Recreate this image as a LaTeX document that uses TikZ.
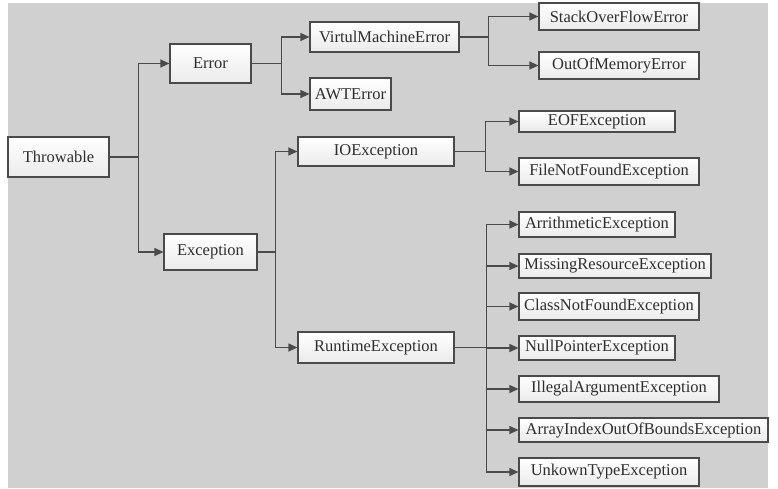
\documentclass[tikz,border=0pt]{standalone}
\usepackage{fontspec}
\setmainfont{Liberation Serif}
\usetikzlibrary{arrows.meta}
\definecolor{bggray}{HTML}{D0D0D0}
\definecolor{linegray}{HTML}{4A4A4A}
\definecolor{txtgray}{HTML}{2E2E2E}
\tikzset{
  cls/.style={draw=linegray,line width=1.2pt,top color=white,bottom color=gray!16,
    inner sep=0pt,text=txtgray,font=\fontsize{16.5}{18}\selectfont},
  inh/.style={draw=linegray,line width=1.2pt,-{Triangle[length=9pt,width=8pt]}},
}
% name, x, y, width, height, text
\NewDocumentCommand\ClassBox{mmmmmm}%
{%
\node[cls,minimum width=#4pt,minimum height=#5pt] (#1) at (#2,#3) {#6};%
}

\begin{document}
\begin{tikzpicture}[x=1pt,y=-1pt]
\useasboundingbox (0,0) rectangle (778,488);
\fill[bggray] (8,3) rectangle (768,488);
\ClassBox{throw}{58.5}{157}{101}{40}{Throwable}
\ClassBox{err}{210.5}{63.5}{81}{39}{Error}
\ClassBox{exc}{210.5}{252}{93}{36}{Exception}
\ClassBox{vme}{384.5}{37}{149}{30}{VirtulMachineError}
\ClassBox{awt}{350.5}{94}{81}{32}{AWTError}
\ClassBox{io}{376}{151.5}{156}{29}{IOException}
\ClassBox{rt}{376}{347.5}{156}{31}{RuntimeException}
\ClassBox{so}{619}{16.5}{160}{27}{StackOverFlowError}
\ClassBox{oom}{619}{65.5}{160}{27}{OutOfMemoryError}
\ClassBox{eof}{597}{121.5}{156}{21}{EOFException}
\ClassBox{fnf}{609}{171.5}{180}{27}{FileNotFoundException}
\ClassBox{ari}{597}{224.5}{156}{25}{ArrithmeticException}
\ClassBox{mre}{615}{266}{192}{24}{MissingResourceException}
\ClassBox{cnf}{609}{306.5}{180}{27}{ClassNotFoundException}
\ClassBox{npe}{597}{348}{156}{24}{NullPointerException}
\ClassBox{iae}{619}{389}{200}{26}{IllegalArgumentException}
\ClassBox{aio}{643.5}{430}{249}{24}{ArrayIndexOutOfBoundsException}
\ClassBox{ute}{609}{472}{180}{28}{UnkownTypeException}
% inheritance lines
\draw[inh] (throw.east) -- ++(29,0) |- (err.west);
\draw[inh] (throw.east) -- ++(29,0) |- (exc.west);
\draw[inh] (err.east) -- ++(30,0) |- (vme.west);
\draw[inh] (err.east) -- ++(30,0) |- (awt.west);
\draw[inh] (vme.east) -- ++(29,0) |- (so.west);
\draw[inh] (vme.east) -- ++(29,0) |- (oom.west);
\draw[inh] (exc.east) -- ++(18,0) |- (io.west);
\draw[inh] (exc.east) -- ++(18,0) |- (rt.west);
\draw[inh] (io.east) -- ++(31,0) |- (eof.west);
\draw[inh] (io.east) -- ++(31,0) |- (fnf.west);
\foreach \c in {ari,mre,cnf,npe,iae,aio,ute}
  \draw[inh] (rt.east) -- ++(32,0) |- (\c.west);
\end{tikzpicture}
\end{document}
